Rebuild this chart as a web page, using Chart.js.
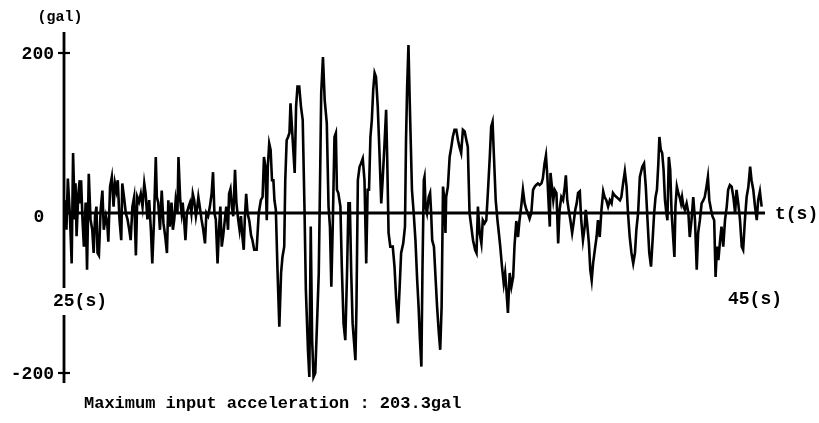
<!DOCTYPE html>
<html>
<head>
<meta charset="utf-8">
<script src="https://cdn.jsdelivr.net/npm/chart.js@4"></script>
<style>
  html, body { margin: 0; padding: 0; background: #fff; }
  #wrap { width: 819px; height: 423px; position: relative; }
</style>
</head>
<body>
<div id="wrap"><canvas id="accChart"></canvas></div>
<script>
// Time (s) of each read-off sample
const times = [
  25.00, 25.03, 25.07, 25.11, 25.17, 25.22, 25.26, 25.31, 25.33, 25.36, 25.41, 25.45, 25.47, 25.49,
  25.53, 25.57, 25.62, 25.66, 25.71, 25.76, 25.81, 25.85, 25.89, 25.93, 25.96, 26.00, 26.05, 26.10,
  26.14, 26.20, 26.24, 26.27, 26.32, 26.37, 26.42, 26.46, 26.50, 26.54, 26.59, 26.64, 26.67, 26.73,
  26.77, 26.82, 26.87, 26.91, 26.96, 27.01, 27.06, 27.10, 27.15, 27.20, 27.25, 27.30, 27.34, 27.39,
  27.44, 27.49, 27.53, 27.58, 27.63, 27.66, 27.70, 27.75, 27.80, 27.85, 27.90, 27.95, 27.99, 28.03,
  28.08, 28.12, 28.16, 28.20, 28.25, 28.28, 28.33, 28.37, 28.40, 28.44, 28.48, 28.52, 28.57, 28.61,
  28.65, 28.69, 28.73, 28.78, 28.82, 28.85, 28.89, 28.94, 28.99, 29.04, 29.08, 29.13, 29.18, 29.23,
  29.27, 29.31, 29.35, 29.40, 29.44, 29.48, 29.52, 29.56, 29.61, 29.65, 29.70, 29.73, 29.77, 29.81,
  29.85, 29.90, 29.94, 29.99, 30.03, 30.07, 30.11, 30.15, 30.18, 30.22, 30.26, 30.31, 30.36, 30.40,
  30.45, 30.52, 30.58, 30.64, 30.69, 30.73, 30.77, 30.81, 30.84, 30.88, 30.92, 30.96, 31.00, 31.03,
  31.07, 31.12, 31.17, 31.22, 31.26, 31.31, 31.34, 31.38, 31.42, 31.46, 31.49, 31.53, 31.57, 31.61,
  31.65, 31.69, 31.74, 31.79, 31.84, 31.89, 31.93, 31.99, 32.03, 32.07, 32.11, 32.15, 32.20, 32.25,
  32.30, 32.34, 32.37, 32.42, 32.47, 32.53, 32.58, 32.62, 32.66, 32.70, 32.75, 32.79, 32.82, 32.86,
  32.92, 32.96, 33.01, 33.06, 33.11, 33.15, 33.19, 33.23, 33.27, 33.35, 33.38, 33.42, 33.47, 33.51,
  33.56, 33.61, 33.66, 33.70, 33.74, 33.78, 33.82, 33.86, 33.90, 33.94, 33.99, 34.04, 34.09, 34.13,
  34.18, 34.23, 34.26, 34.30, 34.35, 34.42, 34.47, 34.52, 34.57, 34.61, 34.66, 34.72, 34.77, 34.80,
  34.83, 34.87, 34.91, 34.97, 35.02, 35.07, 35.12, 35.16, 35.20, 35.24, 35.27, 35.31, 35.33, 35.36,
  35.40, 35.45, 35.49, 35.52, 35.55, 35.60, 35.65, 35.69, 35.74, 35.78, 35.82, 35.86, 35.90, 35.93,
  35.95, 36.00, 36.05, 36.10, 36.14, 36.19, 36.24, 36.29, 36.33, 36.38, 36.43, 36.48, 36.53, 36.57,
  36.62, 36.67, 36.72, 36.78, 36.82, 36.86, 36.91, 36.96, 37.00, 37.05, 37.10, 37.15, 37.20, 37.24,
  37.28, 37.32, 37.37, 37.42, 37.46, 37.50, 37.55, 37.60, 37.64, 37.67, 37.72, 37.77, 37.82, 37.87,
  37.91, 37.96, 38.01, 38.05, 38.10, 38.15, 38.20, 38.25, 38.29, 38.34, 38.39, 38.44, 38.49, 38.53,
  38.58, 38.63, 38.68, 38.72, 38.77, 38.81, 38.85, 38.89, 38.92, 38.94, 38.98, 39.02, 39.06, 39.11,
  39.16, 39.20, 39.25, 39.30, 39.35, 39.38, 39.42, 39.46, 39.51, 39.56, 39.60, 39.65, 39.69, 39.73,
  39.78, 39.82, 39.87, 39.92, 39.95, 39.99, 40.04, 40.08, 40.12, 40.16, 40.21, 40.26, 40.30, 40.35,
  40.40, 40.45, 40.49, 40.54, 40.59, 40.64, 40.69, 40.73, 40.78, 40.83, 40.88, 40.93, 40.97, 41.02,
  41.07, 41.12, 41.16, 41.21, 41.26, 41.31, 41.36, 41.40, 41.45, 41.50, 41.57, 41.62, 41.67, 41.72,
  41.77, 41.82, 41.86, 41.91, 41.95, 41.99, 42.03, 42.06, 42.10, 42.14, 42.18, 42.22, 42.26, 42.29,
  42.33, 42.37, 42.41, 42.46, 42.49, 42.52, 42.56, 42.60, 42.64, 42.68, 42.71, 42.75, 42.79, 42.84,
  42.89, 42.93, 42.98, 43.03, 43.08, 43.13, 43.17, 43.22, 43.27, 43.32, 43.36, 43.41, 43.45, 43.49,
  43.54, 43.58, 43.63, 43.67, 43.71, 43.75, 43.80, 43.84, 43.89, 43.94, 43.99, 44.03, 44.08, 44.13,
  44.18, 44.23, 44.27, 44.32, 44.37, 44.42, 44.46, 44.51, 44.56, 44.61, 44.66, 44.70, 44.75, 44.80,
  44.85, 44.89, 44.94, 44.99
];

// Input acceleration (gal) at each time above
const accel = [
  0, 16, -21, 43, -4, -63, 75, -8, 37, -29, 24, 41, 12, 41,
  -8, -42, 13, -71, 49, -8, -21, -50, -4, 8, -50, -53, 4, 28,
  -21, -4, -13, -36, 33, 45, 8, 37, 28, 41, -8, -34, 37, 16,
  0, -8, -21, -34, 8, 20, -53, 20, 14, 24, 8, 37, 24, -8,
  16, -21, -63, -8, 70, 20, 13, -21, 28, -13, -29, -50, 16, -17,
  13, -21, -8, 16, 0, 70, 16, 0, 13, -8, -34, 0, 8, 13,
  0, 24, 16, -4, 8, 20, 8, -8, -21, -38, 0, -4, 8, 24,
  51, 0, -8, -63, -21, 8, -42, -29, -8, 8, -21, 24, 30, 8,
  -4, 54, 13, -8, -21, -4, -29, -46, -8, 24, 0, -10, -28, -34,
  -46, -46, 0, 16, 20, 70, 58, -9, 58, 87, 79, 41, 41, 16,
  4, -75, -142, -75, -55, -42, 41, 91, 95, 100, 137, 108, 79, 50,
  133, 158, 158, 133, 116, 8, -96, -171, -205, -17, -159, -205, -200, -138,
  -75, 50, 150, 195, 141, 112, 8, -17, -92, -17, 95, 100, 29, 25,
  8, -67, -138, -159, -75, 12, 12, -75, -138, -184, -117, 41, 58, 62,
  68, 41, -63, 29, 29, 95, 116, 154, 175, 170, 133, 75, 12, 41,
  83, 129, 70, -25, -42, -42, -67, -109, -138, -100, -50, -38, -17, 91,
  154, 210, 133, 29, 0, -34, -84, -117, -159, -192, -75, 41, 45, 8,
  0, 20, 25, 0, -34, -42, -84, -117, -150, -171, -117, 33, 16, -25,
  20, 33, 70, 83, 95, 104, 104, 91, 83, 75, 104, 102, 91, 83,
  0, -17, -34, -46, -50, 8, -25, -38, -9, -13, -9, 29, 70, 108,
  114, 70, 16, -9, -25, -42, -67, -88, -75, -92, -125, -75, -92, -80,
  -40, -10, -30, -10, 8, 29, 12, 4, 0, -7, 0, 29, 33, 35,
  37, 35, 37, 43, 62, 72, 45, 8, -17, 50, 33, 16, 29, 25,
  -38, 4, 20, 16, 33, 47, 16, 4, -9, -25, -13, 4, 12, 25,
  27, -9, -34, -17, 4, -13, -38, -71, -84, -63, -46, -30, -9, -30,
  4, 27, 20, 16, 8, 16, 12, 25, 22, 20, 18, 16, 20, 37,
  52, 33, 0, -30, -50, -63, -50, -21, 0, 45, 58, 62, 33, -9,
  -50, -67, -38, 0, 20, 29, 62, 95, 79, 75, 54, 16, 0, -9,
  70, 54, 0, -34, -55, 8, 33, 25, 20, 12, 20, 8, 4, 12,
  0, -30, -9, 20, -9, -71, -25, -9, 12, 16, 20, 33, 45, 16,
  4, -4, -9, -80, -42, -59, -34, -17, -42, -9, 8, 29, 35, 33,
  20, 0, 29, 12, -9, -42, -46, -9, 20, 33, 58, 41, 29, 8,
  -9, 16, 27, 8
];

// Axis range and labelled ticks
const timeRange = [25, 45.086];
const accelRange = [-212.5, 226.25];
const accelTicks = [200, 0, -200];
const accelTickLabels = ['200', '0', '-200'];
const timeTicks = [25, 45];
const timeTickLabels = ['25(s)', '45(s)'];
const yUnit = '(gal)';
const xUnit = 't(s)';
const caption = 'Maximum input acceleration : 203.3gal';

const points = times.map((t, i) => ({ x: t, y: accel[i] }));

// Draws the plotter-style axes and labels from the chart scales
const plotterAxes = {
    id: 'plotterAxes',
    beforeDatasetsDraw(chart) {
        const { ctx, chartArea, scales } = chart;
        const x0 = scales.x.getPixelForValue(timeRange[0]);
        const y0 = scales.y.getPixelForValue(0);
        ctx.save();
        ctx.strokeStyle = '#000';
        ctx.lineWidth = 2.8;
        ctx.beginPath();
        ctx.moveTo(x0, chartArea.top);
        ctx.lineTo(x0, chartArea.bottom);
        ctx.moveTo(x0, y0);
        ctx.lineTo(chartArea.right, y0);
        ctx.stroke();
        ctx.lineWidth = 2.2;
        accelTicks.forEach(v => {
            if (v === 0) return;
            const y = scales.y.getPixelForValue(v);
            ctx.beginPath();
            ctx.moveTo(x0 - 6, y);
            ctx.lineTo(x0 + 6, y);
            ctx.stroke();
        });
        ctx.restore();
    },
    afterDatasetsDraw(chart) {
        const { ctx, scales } = chart;
        const x0 = scales.x.getPixelForValue(timeRange[0]);
        const y0 = scales.y.getPixelForValue(0);
        ctx.save();
        ctx.fillStyle = '#000';
        ctx.textBaseline = 'middle';
        ctx.font = 'bold 18px "Liberation Mono", monospace';

        accelTicks.forEach((v, i) => {
            const y = scales.y.getPixelForValue(v) + 1;
            if (v === 0) {
                ctx.textAlign = 'center';
                ctx.fillText(accelTickLabels[i], x0 - 25, y + 3);
            } else {
                ctx.textAlign = 'right';
                ctx.fillText(accelTickLabels[i], x0 - 10, y);
            }
        });

        // time labels sit well below the zero line
        const labelY = y0 + 88;
        timeTicks.forEach((t, i) => {
            const x = scales.x.getPixelForValue(t);
            if (i === 0) {
                ctx.fillStyle = '#fff';
                ctx.fillRect(x - 4, labelY - 13, 8, 27);
                ctx.fillStyle = '#000';
                ctx.textAlign = 'left';
                ctx.fillText(timeTickLabels[i], x - 11, labelY);
            } else {
                ctx.textAlign = 'right';
                ctx.fillText(timeTickLabels[i], x + 20, labelY - 2);
            }
        });

        ctx.textAlign = 'left';
        ctx.fillText(xUnit, chart.chartArea.right + 10, y0 + 1);

        ctx.font = 'bold 15px "Liberation Mono", monospace';
        ctx.textAlign = 'center';
        ctx.fillText(yUnit, x0 - 4, 17);

        ctx.font = 'bold 17px "Liberation Mono", monospace';
        ctx.textAlign = 'left';
        ctx.fillText(caption, x0 + 20, 404);
        ctx.restore();
    }
};

new Chart(document.getElementById('accChart'), {
    type: 'line',
    data: {
        datasets: [{
            data: points,
            borderColor: '#000',
            borderWidth: 2.6,
            pointRadius: 0,
            tension: 0,
            fill: false,
        }],
    },
    options: {
        responsive: true,
        maintainAspectRatio: false,
        animation: false,
        layout: { padding: { left: 64, right: 54, top: 32, bottom: 40 } },
        plugins: {
            legend: { display: false },
            tooltip: { enabled: false },
        },
        scales: {
            x: { type: 'linear', display: false, min: timeRange[0], max: timeRange[1] },
            y: { type: 'linear', display: false, min: accelRange[0], max: accelRange[1] },
        },
    },
    plugins: [plotterAxes],
});
</script>
</body>
</html>
